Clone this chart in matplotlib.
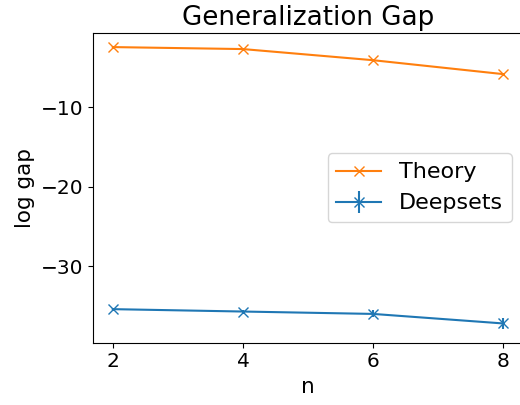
import matplotlib
matplotlib.use('Agg')
import matplotlib.pyplot as plt
import numpy as np

# 資料 (從圖上讀出的估計值)
n = [2, 4, 6, 8]
theory = [-2.45, -2.7, -4.1, -5.85]
deepsets = [-35.4, -35.7, -36.0, -37.2]
deepsets_err = [0.1, 0.25, 0.45, 0.65]

plt.rcParams['font.size'] = 15.5
plt.rcParams['xtick.labelsize'] = 14.5
plt.rcParams['ytick.labelsize'] = 14.5

fig = plt.figure(figsize=(5.2, 4.05), dpi=100)
ax = fig.add_axes([0.1794, 0.1538, 0.826, 0.7647])

ax.plot(n, theory, color='C1', marker='x', markersize=7.5, linewidth=1.5, label='Theory')
ax.errorbar(n, deepsets, yerr=deepsets_err, color='C0', marker='x', markersize=7.5,
            linewidth=1.5, label='Deepsets')

ax.set_xticks([2, 4, 6, 8])
ax.set_yticks([-10, -20, -30])
ax.set_xlabel('n')
ax.set_ylabel('log gap')
ax.set_title('Generalization Gap', fontsize=18.8)

# 圖例順序: Theory 在上
h, l = ax.get_legend_handles_labels()
ax.legend(h, l, loc='center right', fontsize=16)

fig.savefig('out.png', dpi=100)
